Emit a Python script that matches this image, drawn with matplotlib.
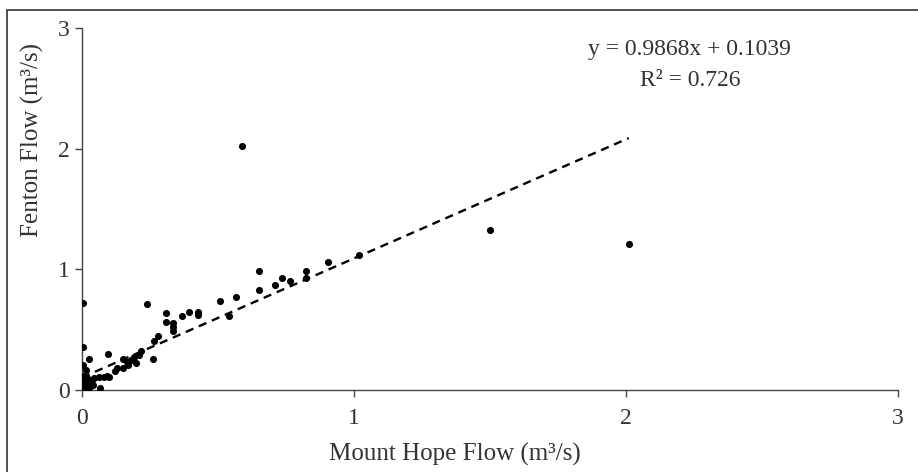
import matplotlib
matplotlib.use("Agg")
import matplotlib.pyplot as plt
import matplotlib.patches as patches
import numpy as np

# Mount Hope flow (x) vs Fenton flow (y), m3/s
mount_hope = [
    0.59, 1.50, 2.01,
    1.02, 0.905, 0.824, 0.824, 0.765, 0.735, 0.71, 0.652, 0.652, 0.565, 0.508, 0.54,
    0.425, 0.425, 0.395, 0.368, 0.336, 0.336, 0.336, 0.31, 0.31, 0.28, 0.265, 0.238,
    0.216, 0.21, 0.26, 0.19, 0.18, 0.152, 0.167, 0.17, 0.20, 0.097,
    0.12, 0.13, 0.15, 0.093, 0.10, 0.08, 0.062, 0.044, 0.068,
    0.005, 0.005, 0.026, 0.005, 0.013, 0.003, 0.01, 0.02, 0.005, 0.015,
    0.03, 0.0, 0.01, 0.025, 0.035, 0.005, 0.02, 0.04,
]
fenton = [
    2.02, 1.33, 1.21,
    1.12, 1.06, 0.99, 0.93, 0.90, 0.925, 0.87, 0.99, 0.83, 0.77, 0.74, 0.61,
    0.65, 0.62, 0.65, 0.61, 0.555, 0.52, 0.49, 0.64, 0.565, 0.45, 0.41, 0.71,
    0.32, 0.29, 0.26, 0.27, 0.25, 0.255, 0.23, 0.21, 0.22, 0.30,
    0.157, 0.18, 0.18, 0.12, 0.105, 0.11, 0.11, 0.097, 0.015,
    0.72, 0.36, 0.255, 0.21, 0.165, 0.12, 0.09, 0.07, 0.05, 0.04,
    0.06, 0.02, 0.0, 0.02, 0.08, 0.075, 0.10, 0.04,
]

# linear trend as printed on the chart
slope = 0.9868
intercept = 0.1039
r_squared = 0.726

x_ticks = [0, 1, 2, 3]
y_ticks = [0, 1, 2, 3]

plt.rcParams['font.family'] = ['Liberation Serif', 'DejaVu Serif']

fig = plt.figure(figsize=(9.18, 4.72), dpi=100)
ax = fig.add_axes([82 / 918, 1 - 390 / 472, 816 / 918, 362 / 472])

ax.scatter(mount_hope, fenton, s=26, color='black', zorder=3, linewidths=0)

xs = np.array([min(mount_hope), max(mount_hope)])
ax.plot(xs, slope * xs + intercept, color='black', lw=1.7, dashes=(3.5, 2.5), zorder=2)

ax.set_xlim(0, 3)
ax.set_ylim(0, 3)
ax.set_xticks(x_ticks)
ax.set_yticks(y_ticks)
ax.tick_params(direction='out', length=5, width=1, color='#444444',
               labelsize=17, labelcolor='#333333')
ax.tick_params(axis='x', pad=8)
ax.tick_params(axis='y', pad=4)

for side in ['top', 'right']:
    ax.spines[side].set_visible(False)
for side in ['left', 'bottom']:
    ax.spines[side].set_color('#444444')
    ax.spines[side].set_linewidth(1)

ax.set_xlabel('Mount Hope Flow (m³/s)', fontsize=18, color='#333333')
ax.set_ylabel('Fenton Flow (m³/s)', fontsize=18, color='#333333')
ax.xaxis.set_label_coords(0.457, -0.145)
ax.yaxis.set_label_coords(-0.047, 0.69)

ax.text(0.745, 0.94, f'y = {slope:.4f}x + {intercept:.4f}', transform=ax.transAxes,
        ha='center', va='center', fontsize=17, color='#333333')
ax.text(0.745, 0.855, f'R² = {r_squared:.3f}', transform=ax.transAxes,
        ha='center', va='center', fontsize=17, color='#333333')

# frame round the figure (right and bottom edges fall outside the image)
frame = patches.Rectangle((7 / 918, -0.1), 2, 1.1 - 10 / 472, transform=fig.transFigure,
                          fill=False, edgecolor='#333333', lw=1.2, clip_on=False)
fig.patches.append(frame)

fig.savefig('out.png', dpi=100)
